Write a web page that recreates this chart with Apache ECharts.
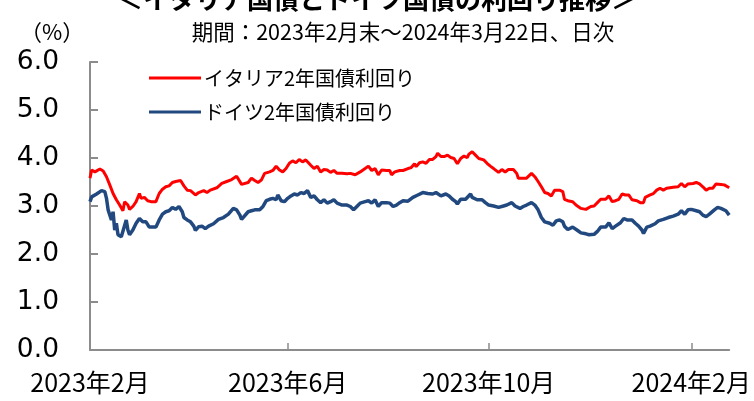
<!DOCTYPE html>
<html><head><meta charset="utf-8">
<script src="https://cdn.jsdelivr.net/npm/echarts@6/dist/echarts.min.js"></script>
<style>html,body{margin:0;padding:0;background:#fff}#c{width:754px;height:401px}</style>
</head><body><div id="c"></div>
<script>
const titleText = '＜イタリア国債とドイツ国債の利回り推移＞';
const subtitleText = '期間：2023年2月末～2024年3月22日、日次';
const unitText = '（%）';
const seriesNames = ['イタリア2年国債利回り', 'ドイツ2年国債利回り'];
const axisStart = '2023-02-28';
const axisEnd = '2024-03-22';
const xTickDates = ['2023-02-28', '2023-06-28', '2023-10-28', '2024-02-28'];
const yTicks = [0, 1, 2, 3, 4, 5, 6];

const itDates = ['2023-02-28','2023-03-01','2023-03-03','2023-03-06','2023-03-08','2023-03-10','2023-03-12','2023-03-14','2023-03-16','2023-03-18','2023-03-20','2023-03-21','2023-03-23','2023-03-24','2023-03-26','2023-03-28','2023-03-30','2023-03-31',
'2023-04-02','2023-04-04','2023-04-06','2023-04-09','2023-04-11','2023-04-13','2023-04-15','2023-04-17','2023-04-19','2023-04-21','2023-04-24','2023-04-26','2023-04-28','2023-04-30',
'2023-05-03','2023-05-05','2023-05-08','2023-05-10','2023-05-12','2023-05-16','2023-05-19','2023-05-22','2023-05-25','2023-05-28','2023-05-29','2023-05-31',
'2023-06-04','2023-06-06','2023-06-07','2023-06-08','2023-06-10','2023-06-12','2023-06-14','2023-06-17','2023-06-19','2023-06-21','2023-06-23','2023-06-25','2023-06-27','2023-06-29',
'2023-07-01','2023-07-03','2023-07-05','2023-07-07','2023-07-09','2023-07-10','2023-07-12','2023-07-14','2023-07-16','2023-07-18','2023-07-20','2023-07-22','2023-07-24','2023-07-26','2023-07-28','2023-07-31',
'2023-08-03','2023-08-05','2023-08-08','2023-08-11','2023-08-14','2023-08-16','2023-08-18','2023-08-20','2023-08-22','2023-08-24','2023-08-27','2023-08-29','2023-08-30',
'2023-09-01','2023-09-04','2023-09-06','2023-09-09','2023-09-11','2023-09-13','2023-09-14','2023-09-16','2023-09-18','2023-09-20','2023-09-22','2023-09-24','2023-09-26','2023-09-27','2023-09-29',
'2023-10-01','2023-10-03','2023-10-05','2023-10-07','2023-10-09','2023-10-11','2023-10-13','2023-10-15','2023-10-16','2023-10-18','2023-10-20','2023-10-22','2023-10-23','2023-10-25','2023-10-27','2023-10-29','2023-10-31',
'2023-11-03','2023-11-05','2023-11-07','2023-11-09','2023-11-12','2023-11-14','2023-11-15','2023-11-18','2023-11-20','2023-11-23','2023-11-25','2023-11-27','2023-11-29',
'2023-12-01','2023-12-03','2023-12-05','2023-12-07','2023-12-10','2023-12-12','2023-12-13','2023-12-15','2023-12-16','2023-12-18','2023-12-20','2023-12-23','2023-12-26','2023-12-29','2023-12-31',
'2024-01-02','2024-01-04','2024-01-07','2024-01-09','2024-01-11','2024-01-13','2024-01-15','2024-01-17','2024-01-19','2024-01-21','2024-01-23','2024-01-26','2024-01-28','2024-01-30','2024-01-31',
'2024-02-03','2024-02-05','2024-02-07','2024-02-09','2024-02-11','2024-02-13','2024-02-17','2024-02-20','2024-02-22','2024-02-24','2024-02-26','2024-02-29',
'2024-03-02','2024-03-04','2024-03-06','2024-03-08','2024-03-10','2024-03-12','2024-03-14','2024-03-17','2024-03-19','2024-03-21','2024-03-22'];
const itVals = [3.58,3.75,3.71,3.77,3.73,3.61,3.44,3.26,3.13,3.02,2.90,3.09,3.02,2.93,2.99,3.09,3.26,3.16,
3.18,3.11,3.09,3.09,3.26,3.35,3.40,3.42,3.49,3.51,3.53,3.42,3.33,3.32,
3.23,3.28,3.32,3.28,3.33,3.38,3.47,3.51,3.55,3.62,3.60,3.45,
3.49,3.58,3.62,3.53,3.49,3.54,3.68,3.71,3.74,3.83,3.75,3.71,3.78,3.89,
3.94,3.90,3.97,3.92,3.96,3.99,3.85,3.78,3.83,3.71,3.76,3.75,3.70,3.74,3.68,3.68,
3.67,3.68,3.65,3.71,3.78,3.83,3.74,3.78,3.65,3.75,3.74,3.74,3.65,
3.71,3.74,3.74,3.78,3.80,3.88,3.82,3.90,3.92,3.89,3.97,3.97,4.03,4.10,4.03,
4.03,4.06,4.01,3.99,3.88,3.99,4.04,4.01,4.08,4.13,4.06,3.99,4.03,3.96,3.89,3.83,3.78,
3.70,3.76,3.71,3.76,3.76,3.68,3.58,3.58,3.58,3.68,3.61,3.51,3.40,
3.28,3.26,3.21,3.33,3.33,3.30,3.14,3.11,3.13,3.09,3.02,2.95,2.93,2.99,3.00,
3.07,3.14,3.14,3.21,3.09,3.11,3.14,3.25,3.23,3.23,3.13,3.11,3.07,3.07,3.18,
3.23,3.26,3.33,3.37,3.33,3.37,3.39,3.40,3.47,3.40,3.46,3.47,
3.49,3.46,3.40,3.33,3.37,3.37,3.46,3.45,3.44,3.40,3.38];

const deDates = ['2023-02-28','2023-03-01','2023-03-04','2023-03-07','2023-03-09','2023-03-10','2023-03-11','2023-03-13','2023-03-14','2023-03-15','2023-03-16','2023-03-17','2023-03-19','2023-03-20','2023-03-22','2023-03-23','2023-03-24','2023-03-26','2023-03-28','2023-03-30',
'2023-04-01','2023-04-03','2023-04-05','2023-04-07','2023-04-09','2023-04-11','2023-04-13','2023-04-15','2023-04-17','2023-04-19','2023-04-21','2023-04-23','2023-04-25','2023-04-26','2023-04-28','2023-04-30',
'2023-05-02','2023-05-03','2023-05-05','2023-05-07','2023-05-09','2023-05-11','2023-05-14','2023-05-17','2023-05-20','2023-05-23','2023-05-26','2023-05-28','2023-05-30','2023-05-31',
'2023-06-04','2023-06-06','2023-06-08','2023-06-11','2023-06-13','2023-06-15','2023-06-17','2023-06-19','2023-06-21','2023-06-22','2023-06-24','2023-06-26','2023-06-28','2023-06-30',
'2023-07-02','2023-07-04','2023-07-06','2023-07-08','2023-07-10','2023-07-12','2023-07-14','2023-07-16','2023-07-18','2023-07-20','2023-07-22','2023-07-24','2023-07-26','2023-07-28','2023-07-31',
'2023-08-03','2023-08-05','2023-08-07','2023-08-09','2023-08-11','2023-08-14','2023-08-16','2023-08-18','2023-08-20','2023-08-22','2023-08-24','2023-08-27','2023-08-29','2023-08-31',
'2023-09-02','2023-09-04','2023-09-06','2023-09-09','2023-09-12','2023-09-15','2023-09-18','2023-09-21','2023-09-24','2023-09-26','2023-09-27','2023-09-29',
'2023-10-02','2023-10-04','2023-10-06','2023-10-08','2023-10-09','2023-10-11','2023-10-14','2023-10-15','2023-10-17','2023-10-18','2023-10-21','2023-10-24','2023-10-26','2023-10-28','2023-10-31',
'2023-11-03','2023-11-06','2023-11-08','2023-11-11','2023-11-13','2023-11-16','2023-11-18','2023-11-20','2023-11-23','2023-11-25','2023-11-27','2023-11-29',
'2023-12-01','2023-12-04','2023-12-06','2023-12-08','2023-12-10','2023-12-12','2023-12-13','2023-12-15','2023-12-16','2023-12-18','2023-12-21','2023-12-23','2023-12-26','2023-12-28','2023-12-31',
'2024-01-02','2024-01-04','2024-01-07','2024-01-09','2024-01-11','2024-01-13','2024-01-16','2024-01-18','2024-01-20','2024-01-23','2024-01-25','2024-01-27','2024-01-29','2024-01-30',
'2024-02-01','2024-02-03','2024-02-06','2024-02-08','2024-02-11','2024-02-14','2024-02-17','2024-02-20','2024-02-22','2024-02-24','2024-02-26','2024-02-28',
'2024-03-02','2024-03-04','2024-03-06','2024-03-08','2024-03-10','2024-03-13','2024-03-15','2024-03-17','2024-03-20','2024-03-22'];
const deVals = [3.09,3.19,3.25,3.32,3.30,3.16,2.92,2.71,2.88,2.50,2.64,2.40,2.36,2.38,2.71,2.50,2.40,2.50,2.64,2.74,
2.67,2.67,2.56,2.56,2.56,2.71,2.83,2.88,2.90,2.97,2.93,2.99,2.88,2.76,2.71,2.67,
2.58,2.49,2.57,2.58,2.53,2.58,2.63,2.72,2.76,2.83,2.95,2.92,2.81,2.72,
2.88,2.90,2.92,2.92,2.99,3.11,3.14,3.16,3.13,3.23,3.11,3.09,3.16,3.21,
3.25,3.23,3.28,3.26,3.32,3.18,3.21,3.13,3.07,3.13,3.06,3.09,3.13,3.06,3.02,
3.02,2.99,2.92,2.99,3.06,3.09,3.11,3.06,3.13,2.99,3.07,3.07,3.06,2.99,
3.02,3.07,3.11,3.10,3.18,3.23,3.28,3.26,3.25,3.28,3.30,3.21,
3.25,3.21,3.14,3.09,3.04,3.14,3.14,3.16,3.25,3.18,3.13,3.13,3.07,3.02,3.00,
2.97,3.00,3.02,3.07,3.00,2.95,2.99,3.02,3.07,3.02,2.92,2.76,
2.67,2.64,2.60,2.69,2.71,2.67,2.58,2.51,2.53,2.56,2.49,2.44,2.42,2.40,2.41,
2.47,2.56,2.56,2.65,2.53,2.58,2.65,2.74,2.71,2.71,2.64,2.58,2.50,2.43,
2.56,2.58,2.63,2.69,2.72,2.76,2.79,2.83,2.90,2.83,2.92,2.93,
2.90,2.88,2.81,2.78,2.83,2.92,2.97,2.95,2.90,2.81];

function ts(s) { const p = s.split('-').map(Number); return Date.UTC(p[0], p[1] - 1, p[2]); }
function pairs(ds, vs) { return ds.map((d, i) => [ts(d), vs[i]]); }

const axisGray = '#8c8c8c';
const jp = '"Noto Sans CJK JP", "Noto Sans", sans-serif';
const tickVals = xTickDates.map(ts);

const chart = echarts.init(document.getElementById('c'), null, { renderer: 'canvas' });
chart.setOption({
  animation: false,
  backgroundColor: '#ffffff',
  title: [
    { text: titleText, left: 'center', top: -19, textStyle: { fontFamily: jp, fontSize: 26, fontWeight: 'bold', color: '#000' } },
    { text: subtitleText, left: 398, textAlign: 'center', top: 16, textStyle: { fontFamily: jp, fontSize: 21.5, fontWeight: 'normal', color: '#000' } },
    { text: unitText, left: 15, top: 16, textStyle: { fontFamily: jp, fontSize: 22, fontWeight: 'normal', color: '#000' } }
  ],
  legend: {
    orient: 'vertical', left: 144, top: 63, itemWidth: 52, itemHeight: 3, itemGap: 14,
    icon: 'rect',
    textStyle: { fontFamily: jp, fontSize: 20, color: '#000', padding: [0, 0, 0, -2] },
    data: seriesNames
  },
  grid: { left: 90, right: 22, top: 62, bottom: 51, containLabel: false },
  xAxis: {
    type: 'value',
    min: ts(axisStart), max: ts(axisEnd),
    axisLine: { lineStyle: { color: axisGray, width: 2 } },
    axisTick: { show: true, inside: true, length: 7, lineStyle: { color: axisGray, width: 1.5 }, customValues: tickVals },
    axisLabel: {
      customValues: tickVals, margin: 20,
      fontFamily: jp, fontSize: 25, color: '#000', showMinLabel: true, showMaxLabel: true,
      formatter: function (v) { const d = new Date(v); return d.getUTCFullYear() + '年' + (d.getUTCMonth() + 1) + '月'; }
    },
    splitLine: { show: false }
  },
  yAxis: {
    type: 'value', min: yTicks[0], max: yTicks[yTicks.length - 1], interval: 1,
    axisLine: { show: true, lineStyle: { color: axisGray, width: 2 } },
    axisTick: { show: true, inside: true, length: 8, lineStyle: { color: axisGray, width: 2 } },
    axisLabel: { margin: 31, fontFamily: '"DejaVu Sans", sans-serif', fontSize: 26.5, color: '#000', formatter: v => v.toFixed(1) },
    splitLine: { show: false }
  },
  series: [
    { name: seriesNames[0], type: 'line', data: pairs(itDates, itVals), showSymbol: false, color: '#ff0000', lineStyle: { color: '#ff0000', width: 3 } },
    { name: seriesNames[1], type: 'line', data: pairs(deDates, deVals), showSymbol: false, color: '#21497f', lineStyle: { color: '#21497f', width: 3.5 } }
  ]
});
</script></body></html>
